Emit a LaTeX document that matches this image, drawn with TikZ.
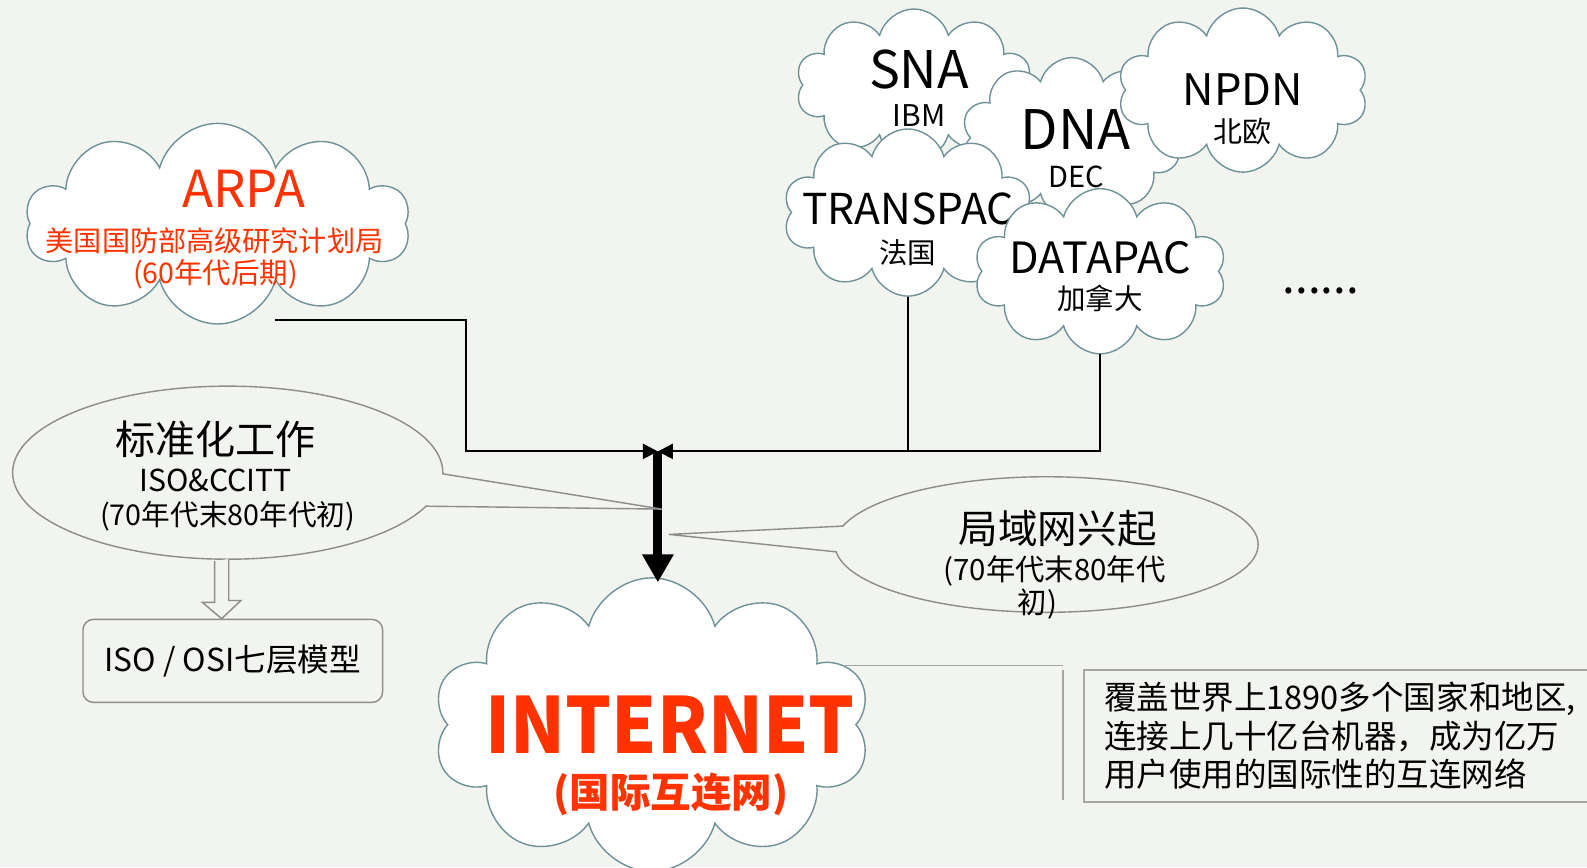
\documentclass[tikz,border=0pt]{standalone}
\usepackage{fontspec}
\setmainfont{Noto Sans CJK SC}
\usetikzlibrary{shapes.symbols,shapes.callouts,arrows.meta,calc}
\definecolor{bg}{HTML}{F2F4EF}
\definecolor{cloudline}{HTML}{6F9299}
\definecolor{hot}{HTML}{FF3300}
\definecolor{ellline}{HTML}{8C8C8C}
\definecolor{boxline}{HTML}{A6A6A6}
\newcommand{\fsz}[1]{\fontsize{#1pt}{#1pt}\selectfont}

\begin{document}
\begin{tikzpicture}[x=0.02024cm, y=-0.02024cm,
  net/.style={cloud, cloud puffs=10, cloud ignores aspect, draw=cloudline, fill=white, line width=0.8pt},
  txt/.style={anchor=base, inner sep=0pt},
  wire/.style={draw=black, line width=1.2pt},
  tip/.style={-{Triangle[length=8.5pt,width=8.5pt]}},
  bubble/.style={ellipse callout, draw=ellline, line width=0.8pt, callout pointer arc=22},
  gray line/.style={draw=boxline, line width=1pt}]

  \fill[bg] (0,0) rectangle (1568,857);
  \useasboundingbox (0,0) rectangle (1568,857);

  % ARPA
  \node[net, minimum width=7.69cm, minimum height=4.01cm] (arpa) at (215,221) {};
  \node[txt, text=hot, font=\fsz{29}] (arpa-n) at (241,205) {ARPA};
  \node[txt, text=hot, font=\fsz{16}] (arpa-d) at (212,248) {美国国防部高级研究计划局};
  \node[txt, text=hot, font=\fsz{16.2}] (arpa-y) at (213,280) {(60年代后期)};

  % other networks
  \node[net, minimum width=4.72cm, minimum height=3.04cm] (sna) at (903,84) {};
  \node[txt, font=\fsz{29.5}] (sna-n) at (908,87) {SNA};
  \node[txt, font=\fsz{17}] (sna-d) at (908,125) {IBM};

  \node[net, minimum width=4.41cm, minimum height=3.2cm] (dna) at (1059,136) {};
  \node[txt, font=\fsz{31}] (dna-n) at (1063,148) {DNA};
  \node[txt, font=\fsz{16.5}] (dna-d) at (1063,185) {DEC};

  \node[net, minimum width=5cm, minimum height=3.28cm] (npdn) at (1228,89) {};
  \node[txt, font=\fsz{24.7}] (npdn-n) at (1228,104) {NPDN};
  \node[txt, font=\fsz{16.5}] (npdn-d) at (1228,141) {北欧};

  \node[net, minimum width=4.98cm, minimum height=3.34cm] (transpac) at (897,210) {};
  \node[txt, font=\fsz{24.2}] (transpac-n) at (897,222) {TRANSPAC};
  \node[txt, font=\fsz{16.2}] (transpac-d) at (897,260) {法国};

  \node[net, minimum width=5.04cm, minimum height=3.3cm] (datapac) at (1087,268) {};
  \node[txt, font=\fsz{24.5}] (datapac-n) at (1087,270) {DATAPAC};
  \node[txt, font=\fsz{16.2}] (datapac-d) at (1087,306) {加拿大};

  \node[font=\fsz{26}] (more) at (1305,287) {......};

  % internet
  \node[net, minimum width=8.74cm, minimum height=5.87cm] (inet) at (644,716) {};
  \node[txt, text=hot, font=\bfseries\fsz{44}] (inet-n) at (662,744) {\scalebox{0.93}[1]{INTERNET}};
  \node[txt, text=hot, font=\bfseries\fsz{23}] (inet-d) at (663,798) {(国际互连网)};

  % connectors
  \coordinate (junc) at (650,446);
  \coordinate (tipL) at (654,503);
  \coordinate (tipR) at (661,528);
  \draw[wire, tip] ($(arpa.south)+(57,-5)$) -| ($(junc)+(-190,0)$) -- (junc);
  \draw[wire, tip] (datapac.south) |- (junc);
  \draw[wire] (transpac.south) -- (transpac.south |- junc);
  \draw[line width=5pt, -{Triangle[length=16pt,width=17pt]}, shorten >=-3pt] (junc) -- (junc |- inet.north);

  % callouts
  \node[bubble, minimum width=8.6cm, minimum height=3.46cm, callout absolute pointer={(tipL)}] (std) at (225,467) {};
  \node[txt, font=\fsz{22.8}] (std-n) at (213,449) {标准化工作};
  \node[txt, font=\fsz{17.2}] (std-o) at (213,486) {ISO\&CCITT};
  \node[txt, font=\fsz{16.3}] (std-y) at (225,519) {(70年代末80年代初)};

  \node[bubble, minimum width=8.46cm, minimum height=2.71cm, callout absolute pointer={(tipR)}] (lan) at (1034,538) {};
  \node[txt, font=\fsz{22.5}] (lan-n) at (1045,537) {局域网兴起};
  \node[txt, font=\fsz{16.7}] (lan-y) at (1042,574) {(70年代末80年代};
  \node[txt, font=\fsz{16.7}] (lan-z) at (1025,606) {初)};

  \node[draw=ellline, rounded corners=6pt, line width=0.8pt, minimum width=5.99cm, minimum height=1.66cm, font=\fsz{18}] (iso) at (230,653) {ISO / OSI七层模型};
  \coordinate (ha) at ($(std.south)+(-6,1)$);
  \draw[draw=ellline, fill=bg, line width=0.8pt] ($(ha)+(-7,0)$) -- ++(0,41) -- ++(-12,0) -- (ha |- iso.north) -- ++(19,-18) -- ++(-12,0) -- ++(0,-41);

  % description
  \node[draw=boxline, line width=1pt, anchor=north west, inner xsep=0.405cm, inner ysep=0.25cm, text width=10.7cm, align=left, font=\fontsize{18.5pt}{21.9pt}\selectfont] (desc) at (1070,661) {覆盖世界上1890多个国家和地区,\\连接上几十亿台机器，成为亿万\\用户使用的国际性的互连网络};
  \coordinate (brk-t) at (1050,662);
  \coordinate (brk-b) at (1050,790);
  \draw[gray line] (brk-t) -- (brk-b);
  \draw[gray line] (inet.17) -- (inet.17 -| brk-t);
\end{tikzpicture}
\end{document}
